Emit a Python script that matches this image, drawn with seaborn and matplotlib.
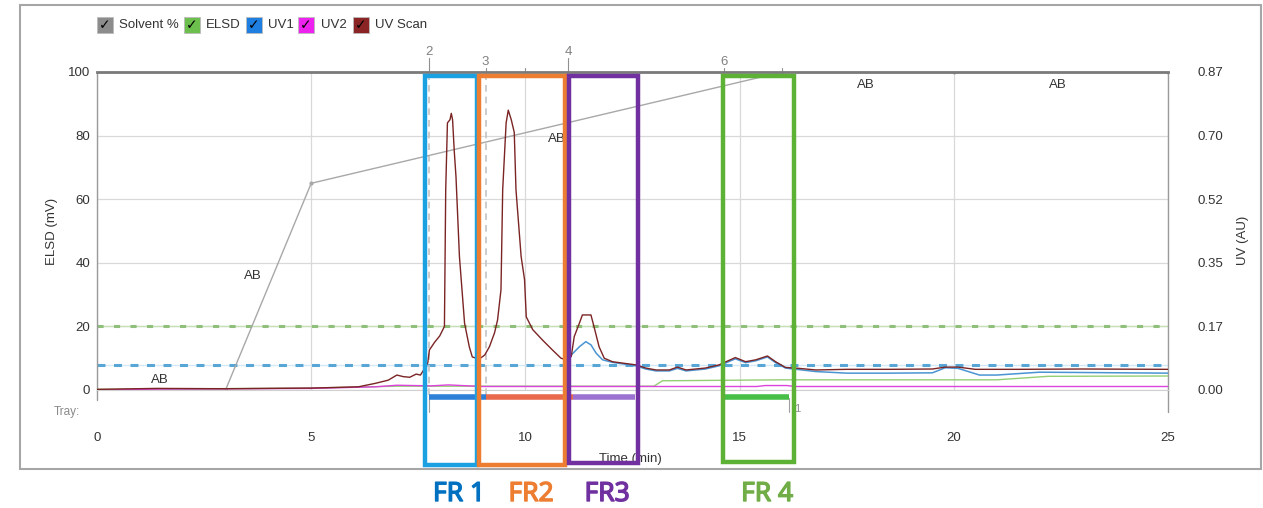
import numpy as np
import pandas as pd
import matplotlib
matplotlib.use("Agg")
import matplotlib.pyplot as plt
import matplotlib.patheffects as pe
import seaborn as sns
from matplotlib.patches import Rectangle

# ---------------- data ----------------
uv_scan_time = [0, 1.4, 3.0, 5.0, 6.1, 6.5, 6.8, 7.0, 7.15, 7.3,
                7.45, 7.55, 7.65, 7.72, 7.76, 7.88, 8.0, 8.11, 8.14, 8.18,
                8.24, 8.27, 8.3, 8.34, 8.38, 8.46, 8.58, 8.69, 8.76, 8.85,
                8.95, 9.05, 9.16, 9.28, 9.35, 9.43, 9.47, 9.55, 9.6, 9.67,
                9.74, 9.78, 9.9, 9.98, 10.02, 10.17, 10.4, 10.63, 10.83, 10.95,
                11.07, 11.14, 11.26, 11.33, 11.53, 11.6, 11.72, 11.84, 12.03, 12.58,
                12.81, 13.05, 13.36, 13.55, 13.75, 14.2, 14.52, 14.9, 15.14, 15.38,
                15.65, 15.84, 16.07, 16.39, 16.78, 17.5, 18.5, 19.5, 19.8, 20.1,
                20.5, 21.5, 23.0, 25.0]
uv_scan_val = [0.2, 0.5, 0.4, 0.6, 1.0, 2.1, 3.1, 4.7, 4.2, 4.0,
               5.0, 4.7, 6.8, 8.5, 12.6, 15.0, 17.0, 20.0, 63.0, 84.0,
               85.0, 87.0, 85.0, 75.0, 67.0, 42.0, 21.0, 13.6, 10.4, 10.0,
               10.0, 11.0, 13.6, 18.0, 22.0, 31.5, 63.0, 84.0, 88.0, 85.0,
               81.0, 63.0, 42.0, 34.7, 23.0, 19.0, 15.7, 12.6, 10.0, 9.5,
               10.5, 16.8, 21.0, 23.6, 23.6, 20.0, 13.6, 10.0, 8.9, 7.9,
               6.9, 6.3, 6.3, 7.2, 6.3, 6.9, 7.9, 10.2, 8.9, 9.5,
               10.7, 8.9, 7.1, 6.8, 6.3, 6.5, 6.5, 6.6, 7.2, 7.2,
               6.5, 6.5, 6.6, 6.5]

uv1_time = [11.0, 11.07, 11.26, 11.41, 11.53, 11.65, 11.8, 12.03, 12.58, 12.81,
            13.05, 13.36, 13.55, 13.75, 14.2, 14.52, 14.9, 15.14, 15.38, 15.65,
            15.84, 16.07, 16.39, 16.78, 17.5, 18.5, 19.5, 19.8, 20.1, 20.6,
            21.0, 22.0, 23.0, 25.0]
uv1_val = [9.5, 11.0, 13.6, 15.2, 14.2, 11.6, 9.5, 8.7, 7.6, 6.6,
           6.0, 6.0, 6.8, 6.0, 6.6, 7.6, 9.8, 8.6, 9.2, 10.4,
           8.6, 6.9, 6.4, 5.8, 5.3, 5.3, 5.4, 7.0, 6.8, 4.7,
           4.7, 5.6, 5.5, 5.3]

uv2_time = [0, 1.5, 5.0, 6.5, 7.0, 7.8, 8.2, 9.0, 15.4, 15.6, 16.1, 16.3, 25.0]
uv2_val = [0.0, 0.3, 0.5, 1.0, 1.5, 1.3, 1.6, 1.1, 1.1, 1.4, 1.4, 1.1, 1.1]

elsd_time = [0, 5.0, 7.0, 13.0, 13.2, 16.0, 21.0, 22.2, 25.0]
elsd_val = [0.2, 0.6, 1.2, 1.2, 2.9, 3.2, 3.2, 4.3, 4.4]

solvent_time = [0, 3, 5, 16, 20, 25]
solvent_val = [0, 0, 65, 100, 100, 100]

elsd_threshold = 20
uv_threshold = 8

ab_time = [1.47, 3.64, 10.74, 17.95, 22.43]
ab_val = [3.2, 36, 78.8, 96, 96]

frac_labels = ["2", "3", "4", "6"]
frac_time = [7.75, 9.07, 11.0, 14.63]

bar_start = [7.75, 9.07, 11.12, 14.63]
bar_end = [9.07, 11.12, 12.55, 16.15]
bar_colors = ["#2e7fd6", "#e9694d", "#9b72d0", "#47bf47"]

x_ticks = [0, 5, 10, 15, 20, 25]
y_ticks = [0, 20, 40, 60, 80, 100]
uv_tick_labels = ["0.00", "0.17", "0.35", "0.52", "0.70", "0.87"]
uv_max = 0.87

legend_labels = ["Solvent %", "ELSD", "UV1", "UV2", "UV Scan"]
legend_colors = ["#8c8c8c", "#6cbf4c", "#1f7fe0", "#ee22ee", "#8b2525"]

fr_labels = ["FR 1", "FR2", "FR3", "FR 4"]
fr_text_colors = ["#0070C0", "#ED7D31", "#7030A0", "#70AD47"]
fr_box_colors = ["#1BA1E2", "#ED7D31", "#7030A0", "#5DB135"]

# ---------------- style ----------------
sns.set_theme(style="white")
plt.rcParams['font.family'] = ['Liberation Sans', 'DejaVu Sans']
FS = 9.5

W, H = 1263, 508
def fx(x):
    return x / W
def fy(y):
    return 1 - y / H

fig = plt.figure(figsize=(W / 100, H / 100), dpi=100)
ax = fig.add_axes([fx(97), fy(390), (1168 - 97) / W, (390 - 72) / H])

# outer frame
fig.add_artist(Rectangle((fx(20), fy(469)), (1261 - 20) / W, (469 - 5) / H,
                         transform=fig.transFigure, fill=False,
                         edgecolor="#a6a6a6", lw=1.5, zorder=0))

ax.set_xlim(0, 25)
ax.set_ylim(0, 100)
ax.set_xticks(x_ticks)
ax.set_yticks(y_ticks)
ax.grid(True, color="#d9d9d9", lw=0.9)

# thresholds
ax.axhline(elsd_threshold, color="#c4e0b4", lw=1.0, zorder=1)
ax.axhline(elsd_threshold, color="#8fbf7a", lw=2.2, ls=(0, (2.0, 3.4)), zorder=1)
ax.axhline(uv_threshold, color="#d3e9f7", lw=1.0, zorder=1)
ax.axhline(uv_threshold, color="#58a6d6", lw=2.2, ls=(0, (2.6, 2.8)), zorder=1)

# solvent gradient
sns.lineplot(x=solvent_time, y=solvent_val, ax=ax, color="#a8a8a8", lw=1.0,
             estimator=None, sort=False, legend=False, marker="o",
             markersize=3, markeredgewidth=0, zorder=2)

# fraction dashed markers
for t in frac_time:
    ax.plot([t, t], [-1.5, 100], color="#c4c4c4", lw=1.2, ls=(0, (4, 3)),
            clip_on=False, zorder=1)

sns.lineplot(x=elsd_time, y=elsd_val, ax=ax, color="#93cf72", lw=1.0,
             estimator=None, sort=False, legend=False, zorder=3)
sns.lineplot(x=uv2_time, y=uv2_val, ax=ax, color="#dd44dd", lw=1.0,
             estimator=None, sort=False, legend=False, zorder=3)
sns.lineplot(x=uv1_time, y=uv1_val, ax=ax, color="#4a94d2", lw=1.1,
             estimator=None, sort=False, legend=False, zorder=4)
sns.lineplot(x=uv_scan_time, y=uv_scan_val, ax=ax, color="#7b2424", lw=1.0,
             estimator=None, sort=False, legend=False, zorder=5)

# AB labels
for t, v in zip(ab_time, ab_val):
    ax.text(t, v, "AB", ha="center", va="center", fontsize=FS, color="#333333")

# fraction numbers at top
for i, (lab, t) in enumerate(zip(frac_labels, frac_time)):
    ylab = 106.3 if i % 2 == 0 else 103.2
    ax.text(t, ylab, lab, ha="center", va="center", fontsize=FS,
            color="#808080", clip_on=False)
    ax.plot([t, t], [100, ylab - 1.8], color="#909090", lw=0.8, clip_on=False)
for t in [10, 16]:
    ax.plot([t, t], [100, 101.3], color="#909090", lw=0.8, clip_on=False)

# fraction bars
for s, e, c in zip(bar_start, bar_end, bar_colors):
    ax.plot([s, e], [-2.2, -2.2], color=c, lw=4, solid_capstyle="butt",
            clip_on=False, zorder=6)
for t in [bar_start[0], bar_end[-1]]:
    ax.plot([t, t], [-2.5, -7.0], color="#a0a0a0", lw=0.8, clip_on=False)

# spines
for side in ["left", "right"]:
    ax.spines[side].set_color("#9a9a9a")
    ax.spines[side].set_linewidth(1.0)
ax.spines["top"].set_color("#7a7a7a")
ax.spines["top"].set_linewidth(2.0)
ax.spines["bottom"].set_color("#d0d0d0")
ax.spines["bottom"].set_linewidth(0.8)
ax.plot([0, 0], [0, -3.2], color="#9a9a9a", lw=1.0, clip_on=False)
ax.plot([25, 25], [0, -7.0], color="#9a9a9a", lw=1.0, clip_on=False)

ax.tick_params(axis="x", length=0, pad=30, labelsize=FS, colors="#333333")
ax.tick_params(axis="y", length=0, pad=5, labelsize=FS, colors="#333333")
ax.set_xlabel("Time (min)", fontsize=FS, color="#333333")
ax.xaxis.set_label_coords(0.498, -0.197)
ax.set_ylabel("ELSD (mV)", fontsize=FS, color="#333333")
ax.yaxis.set_label_coords(-0.0365, 0.5)

# Tray labels
ax.text(-0.4, -6.8, "Tray:", ha="right", va="center", fontsize=8.5,
        color="#8a8a8a", clip_on=False)
ax.text(16.35, -6.0, "1", ha="center", va="center", fontsize=8,
        color="#8a8a8a", clip_on=False)

# right UV axis
ax2 = ax.twinx()
ax2.set_ylim(0, uv_max)
ax2.set_yticks(np.linspace(0, uv_max, len(uv_tick_labels)))
ax2.set_yticklabels(uv_tick_labels)
ax2.tick_params(axis="y", length=0, pad=21, labelsize=FS, colors="#333333")
for s in ax2.spines.values():
    s.set_visible(False)
ax2.grid(False)
ax2.set_ylabel("UV (AU)", fontsize=FS, color="#333333", rotation=90)
ax2.yaxis.set_label_coords(1.064, 0.47)

# legend (checkbox style)
box_x = [97, 184, 246, 298, 353]
text_x = [119, 206, 268, 321, 375]
for bx, tx, lab, col in zip(box_x, text_x, legend_labels, legend_colors):
    fig.add_artist(Rectangle((fx(bx), fy(33)), 16 / W, 16 / H,
                             transform=fig.transFigure, facecolor=col,
                             edgecolor="#bbbbbb", lw=0.6))
    fig.text(fx(bx + 8), fy(25), "\u2713", ha="center", va="center",
             fontsize=10, fontweight="bold", color="black",
             family=["DejaVu Sans"])
    fig.text(fx(tx), fy(25), lab, ha="left", va="center", fontsize=9.5,
             color="#333333")

# FR boxes
fr_left = [425, 479, 569, 723]
fr_right = [477, 565, 638, 794]
fr_bottom = [465, 465, 463, 462]
for l, r, b, c in zip(fr_left, fr_right, fr_bottom, fr_box_colors):
    fig.add_artist(Rectangle((fx(l), fy(b)), (r - l) / W, (b - 76) / H,
                             transform=fig.transFigure, fill=False,
                             edgecolor=c, lw=3.2, zorder=10))

fr_center = [459, 531, 607, 767]
for cx, lab, col in zip(fr_center, fr_labels, fr_text_colors):
    fig.text(fx(cx), fy(494), lab, ha="center", va="center", fontsize=19,
             fontweight="bold", color=col, family=["Noto Sans", "DejaVu Sans"],
             path_effects=[pe.withStroke(linewidth=1.0, foreground=col)])

fig.savefig("out.png", dpi=100)
